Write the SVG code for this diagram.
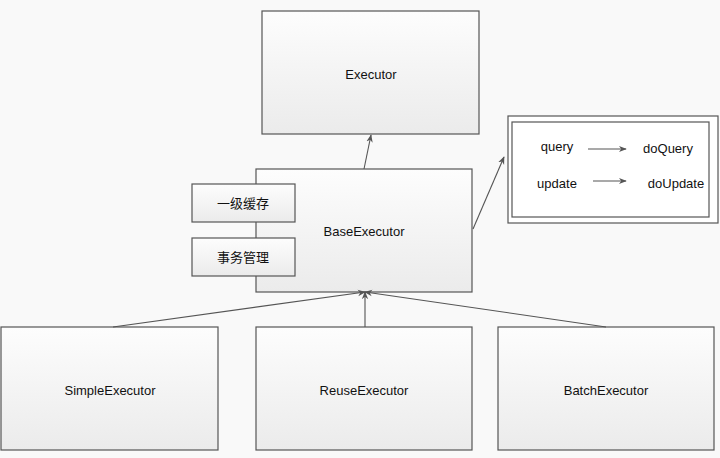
<svg xmlns="http://www.w3.org/2000/svg" width="720" height="458" viewBox="0 0 720 458">
<defs>
<linearGradient id="g" x1="0" y1="0" x2="0" y2="1">
<stop offset="0" stop-color="#fdfdfd"/>
<stop offset="1" stop-color="#ebebeb"/>
</linearGradient>
<marker id="ar" viewBox="0 0 10 10" refX="9" refY="5" markerWidth="8" markerHeight="8" markerUnits="userSpaceOnUse" orient="auto">
<path d="M0,1 L10,5 L0,9 L3,5 Z" fill="#555"/>
</marker>
</defs>
<style>
.box{fill:url(#g);stroke:#555;stroke-width:1.2}
.plain{fill:#fff;stroke:#555;stroke-width:1.2}
.t{font-family:"Liberation Sans","Noto Sans CJK SC",sans-serif;font-size:13px;fill:#111;text-anchor:middle;dominant-baseline:central}
.c{stroke:#555;stroke-width:1.1;fill:none;marker-end:url(#ar)}
</style>
<rect width="720" height="458" fill="#f9f9f9"/>
<g id="executor"><rect class="box" x="262" y="11" width="217" height="123"/><text class="t" x="371" y="74">Executor</text></g>
<g id="baseExecutor"><rect class="box" x="256" y="169" width="216" height="123"/><text class="t" x="364" y="231">BaseExecutor</text></g>
<g id="cache"><rect class="box" x="192" y="184" width="103" height="38"/><text class="t" x="243" y="203">一级缓存</text></g>
<g id="tx"><rect class="box" x="192" y="238" width="103" height="38"/><text class="t" x="243" y="257">事务管理</text></g>
<g id="mapping">
<rect class="plain" x="508" y="116" width="210" height="107"/>
<rect class="plain" x="512" y="122" width="197" height="95"/>
<text class="t" x="557" y="146">query</text>
<text class="t" x="668" y="148">doQuery</text>
<text class="t" x="557" y="183">update</text>
<text class="t" x="676" y="183">doUpdate</text>
</g>
<g id="simple"><rect class="box" x="1" y="327" width="217" height="123"/><text class="t" x="110" y="390">SimpleExecutor</text></g>
<g id="reuse"><rect class="box" x="256" y="327" width="216" height="123"/><text class="t" x="364" y="390">ReuseExecutor</text></g>
<g id="batch"><rect class="box" x="498" y="327" width="216" height="123"/><text class="t" x="606" y="390">BatchExecutor</text></g>
<g id="connectors">
<path class="c" d="M364,169 L371,135"/>
<path class="c" d="M473,229 L504,157"/>
<path class="c" d="M113,327 L365,292"/>
<path class="c" d="M365,327 L365,292"/>
<path class="c" d="M606,327 L365,292"/>
<path class="c" d="M588,149 L626,149"/>
<path class="c" d="M593,181 L626,181"/>
</g>
</svg>
